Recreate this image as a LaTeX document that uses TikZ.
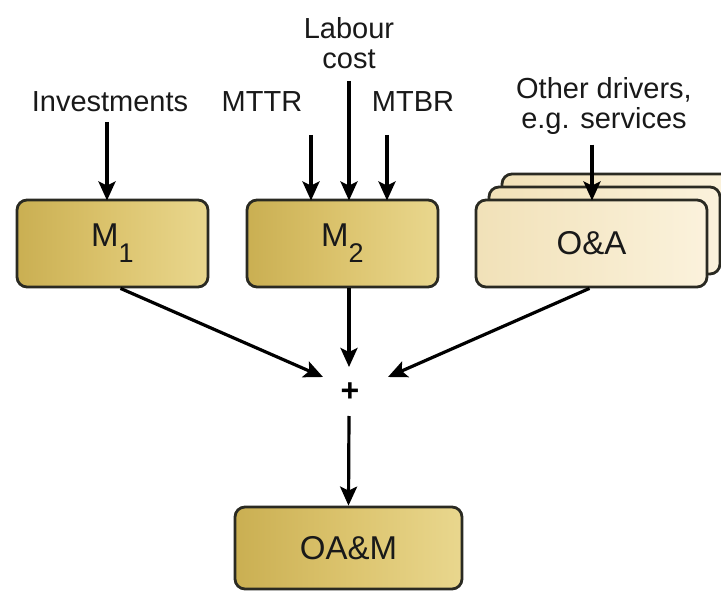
\documentclass[tikz,border=0pt]{standalone}
\usepackage{fontspec}
\setmainfont{Liberation Sans}
\usetikzlibrary{arrows.meta}
\definecolor{goldlight}{HTML}{E9D78E}
\definecolor{goldmid}{HTML}{DCC46E}
\definecolor{golddark}{HTML}{CAAF52}
\definecolor{creamlight}{HTML}{FBF2DC}
\definecolor{creamdark}{HTML}{F1E1B8}
\definecolor{edge}{HTML}{2A2A22}
\newcommand{\subidx}[1]{\raisebox{-16pt}{\fontsize{27}{27}\selectfont #1}}
\tikzset{
  goldbox/.style={draw=edge, line width=2.8pt, rounded corners=10pt,
    shading=axis, shading angle=35, left color=golddark, right color=goldlight, middle color=goldmid,
    minimum width=191pt, minimum height=87pt, inner sep=0pt,
    font=\fontsize{33}{36}\selectfont, text=black!90},
  creambox/.style={draw=edge, line width=2.8pt, rounded corners=10pt,
    shading=axis, shading angle=35, left color=creamdark, right color=creamlight,
    minimum width=231pt, minimum height=87pt, inner sep=0pt,
    font=\fontsize{33}{36}\selectfont, text=black!90},
  lbl/.style={font=\fontsize{29}{30}\selectfont, inner sep=0pt, align=center, text=black!90},
  arr/.style={line width=3.2pt, draw=black, -{Stealth[length=19pt,width=17pt,inset=4pt]}},
}
\begin{document}
\begin{tikzpicture}[x=1pt, y=-1pt]
  \clip (0,0) rectangle (721,591);
  \fill[white] (0,0) rectangle (721,591);

  % model boxes
  \node[goldbox] (M1) at (112.5,243.5) {M\subidx{1}};
  \node[goldbox] (M2) at (342.5,243.5) {M\subidx{2}};
  % stacked O&A boxes
  \node[creambox] (OA3) at (617.5,217.5) {};
  \node[creambox] (OA2) at (604.5,230.5) {};
  \node[creambox] (OA) at (591.5,243.5) {O\&A};
  \node[goldbox, minimum width=227pt, minimum height=82pt] (OAM) at (348.5,548) {OA\&M};

  % driver labels
  \node[lbl] (inv) at (110,102) {Investments};
  \node[lbl] (mttr) at (262,102) {MTTR};
  \node[lbl] (mtbr) at (413,102) {MTBR};
  \node[lbl] (lab) at (349,43) {Labour\\cost};
  \node[lbl] (oth) at (604,106) {Other drivers,\\e.g. services};

  % summation
  \node[font=\bfseries\fontsize{32}{32}\selectfont, inner sep=0pt] (plus) at (350,392) {+};
  \coordinate (inL) at (323,377);
  \coordinate (inM) at (349,367);
  \coordinate (inR) at (388,377);
  \coordinate (outP) at (349,416);

  % driver arrows
  \draw[arr] (107,122) -- (107,200.5);
  \draw[arr] (311,135) -- (311,200.5);
  \draw[arr] (387,135) -- (387,200.5);
  \draw[arr] (lab.south) ++(0,12) -- (349,200.5);
  \draw[arr] (oth.south) ++(-12,10) -- (592,200.5);

  % model outputs into the sum
  \draw[arr] ([xshift=8pt]M1.south) -- (inL);
  \draw[arr] ([xshift=6.5pt]M2.south) -- (inM);
  \draw[arr] ([xshift=-2pt]OA.south) -- (inR);
  \draw[arr] (outP) -- (OAM.north);
\end{tikzpicture}
\end{document}
